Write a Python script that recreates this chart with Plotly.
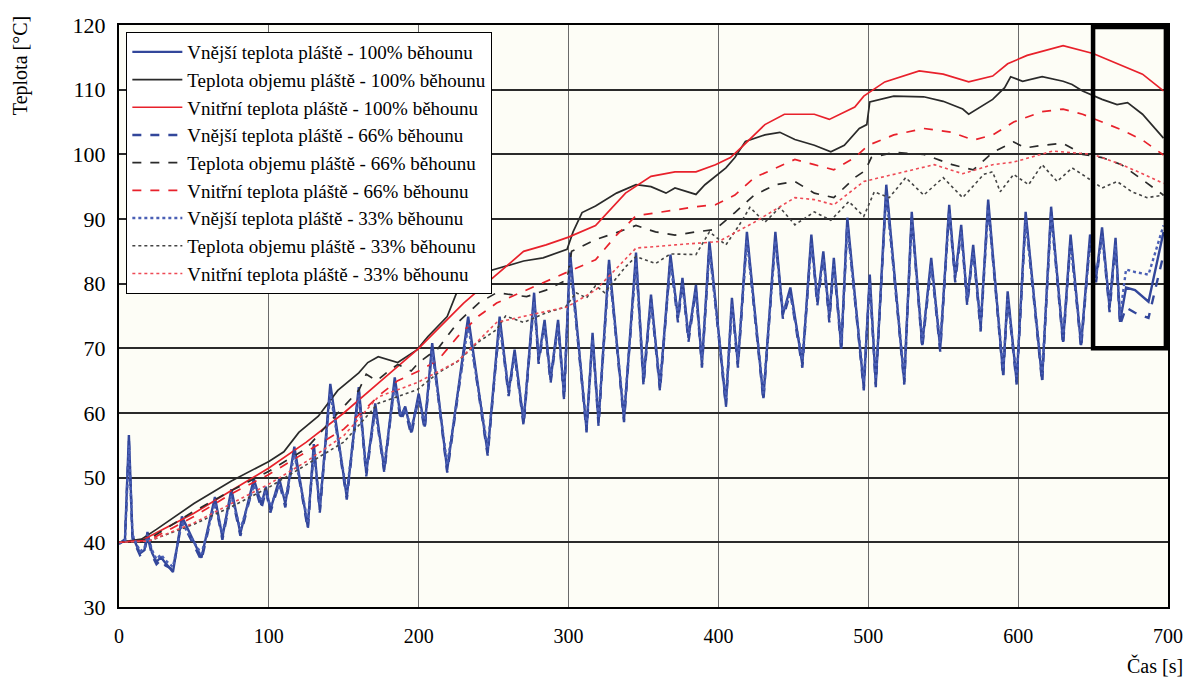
import plotly.graph_objects as go

# ---------------- data ----------------
t_blue = [0, 4, 6.6, 9, 14, 17, 19, 22, 25, 28,
          31, 36, 42, 55, 64, 69, 75, 81, 90, 95,
          98, 101, 107, 111, 117, 126, 130, 134, 141, 152,
          160, 165, 171, 177, 184, 188, 191, 195, 200, 204,
          209, 219, 233, 246, 254, 260, 264, 270, 277, 280,
          284, 288, 293, 297, 301, 312, 316, 320, 327, 337,
          345, 350, 355, 361, 368, 373, 376, 380, 385, 389,
          394, 405, 409, 413, 419, 430, 438, 443, 448, 456,
          462, 466, 470, 474, 477, 482, 486, 497, 501, 505,
          512, 524, 529, 536, 542, 548, 554, 558, 562, 566,
          570, 575, 580, 590, 593, 599, 605, 616, 622, 630,
          635, 642, 648, 652, 656, 661, 665, 668, 672, 678,
          687, 697]

outer_100 = [39.8, 40.5, 56.6, 41.0, 38.3, 38.8, 41.6, 38.4, 37.0, 37.7,
             36.8, 35.4, 44.0, 37.6, 47.0, 40.8, 48.2, 41.4, 49.8, 45.8,
             48.6, 45.0, 49.8, 46.0, 54.8, 42.4, 55.2, 45.0, 64.5, 47.0,
             64.0, 50.7, 61.5, 51.2, 65.5, 59.4, 61.0, 57.0, 63.0, 57.9,
             70.8, 51.2, 74.9, 53.8, 74.9, 63.1, 69.8, 58.5, 78.6, 68.2,
             74.4, 65.1, 74.4, 62.5, 84.8, 57.4, 72.4, 58.5, 83.7, 59.0,
             84.8, 64.8, 78.3, 63.9, 84.5, 74.7, 80.9, 71.6, 79.8, 67.5,
             86.5, 61.3, 77.8, 67.5, 88.0, 62.3, 88.0, 75.2, 79.4, 67.5,
             87.6, 77.2, 85.0, 74.7, 84.0, 70.0, 90.2, 63.9, 81.4, 64.4,
             95.3, 64.8, 91.1, 70.5, 84.0, 70.0, 92.2, 80.9, 89.1, 77.2,
             86.0, 73.2, 93.0, 65.9, 78.8, 64.8, 91.1, 65.1, 91.9, 71.0,
             87.6, 70.5, 87.6, 80.9, 88.7, 76.3, 87.1, 74.1, 79.4, 79.0,
             77.2, 88.0]

outer_66 = [39.8, 40.3, 55.8, 40.6, 38.0, 38.5, 41.0, 38.0, 36.6, 37.3,
            36.4, 35.8, 43.2, 37.2, 46.4, 40.4, 47.6, 41.0, 49.2, 45.2,
            48.0, 44.6, 49.2, 45.4, 54.2, 42.0, 54.6, 44.6, 63.8, 46.6,
            63.4, 50.2, 60.8, 50.8, 64.8, 58.8, 60.4, 56.6, 62.4, 57.4,
            70.2, 50.8, 74.2, 53.4, 74.2, 62.6, 69.2, 58.0, 77.8, 67.6,
            73.8, 64.6, 73.8, 62.0, 84.0, 57.0, 71.8, 58.0, 83.0, 58.6,
            84.0, 64.2, 77.6, 63.4, 83.8, 74.0, 80.2, 71.0, 79.0, 67.0,
            85.8, 60.9, 77.0, 67.0, 87.2, 61.9, 87.2, 74.6, 78.6, 67.0,
            86.8, 76.6, 84.2, 74.0, 83.2, 69.5, 89.4, 63.5, 80.6, 64.0,
            94.5, 64.4, 90.3, 70.0, 83.2, 69.5, 91.4, 80.2, 88.3, 76.6,
            85.2, 72.6, 92.2, 65.5, 78.0, 64.4, 90.3, 64.7, 91.1, 70.5,
            86.8, 70.0, 86.8, 80.2, 87.9, 75.6, 86.3, 73.6, 76.3, 75.5,
            74.7, 84.5]

outer_33 = [39.8, 40.2, 55.0, 41.2, 38.6, 39.1, 41.2, 38.8, 37.4, 38.1,
            37.2, 36.2, 43.0, 38.2, 46.0, 41.4, 47.2, 42.0, 48.8, 46.4,
            47.8, 45.6, 48.8, 46.6, 53.6, 43.2, 54.0, 45.8, 63.0, 47.8,
            62.8, 51.4, 60.2, 52.0, 64.2, 59.8, 60.6, 57.6, 62.2, 58.4,
            69.6, 52.0, 73.6, 54.6, 73.6, 63.6, 68.8, 59.2, 77.2, 68.8,
            73.4, 65.8, 73.4, 63.2, 83.2, 58.2, 71.4, 59.2, 82.4, 59.8,
            83.4, 65.6, 77.2, 64.6, 83.2, 75.2, 79.8, 72.2, 78.8, 68.2,
            85.2, 62.2, 76.8, 68.2, 86.8, 63.0, 86.6, 75.8, 78.4, 68.2,
            86.2, 77.8, 83.8, 75.4, 83.0, 70.8, 88.8, 64.8, 80.2, 65.2,
            93.8, 65.6, 89.8, 71.2, 82.8, 70.8, 91.0, 81.4, 88.0, 77.8,
            84.8, 74.0, 91.6, 66.8, 77.6, 65.6, 89.8, 66.0, 90.6, 71.8,
            86.2, 71.2, 86.2, 81.4, 87.4, 77.0, 86.0, 75.0, 82.2, 81.8,
            81.4, 89.0]

t_bulk_100 = [0, 15, 25, 50, 75, 100, 110, 120, 133, 146,
              160, 166, 173, 186, 199, 206, 219, 226, 240, 255,
              270, 283, 299, 303, 309, 318, 332, 345, 355, 365,
              371, 385, 391, 405, 411, 418, 431, 441, 451, 464,
              475, 484, 494, 499, 501, 517, 537, 550, 563, 567,
              583, 591, 595, 603, 616, 630, 636, 643, 656, 666,
              673, 683, 697]
bulk_100 = [40, 40.5, 42, 46, 49.5, 52.5, 54, 57, 59.5, 63.5,
            66.2, 67.8, 68.7, 67.8, 69.8, 71.8, 74.9, 79, 81.5, 82.5,
            83.5, 84, 85.3, 88, 91, 92, 94, 95.3, 95, 94,
            94.8, 93.8, 95.3, 97.9, 99.5, 102, 103, 103.4, 102.3, 101.4,
            100.4, 101.4, 104, 104.6, 108.1, 109, 108.9, 108.2, 107, 106.2,
            108.5, 110.3, 112, 111.3, 112, 111.3, 110.8, 109.8, 108.5, 107.7,
            108, 106.2, 102.5]

t_inner_100 = [0, 15, 25, 50, 75, 100, 125, 150, 175, 200,
               215, 230, 250, 270, 285, 300, 318, 338, 355, 371,
               385, 398, 408, 415, 431, 444, 464, 474, 491, 497,
               511, 534, 550, 567, 583, 593, 606, 630, 650, 666,
               683, 697]
inner_100 = [40, 40.3, 41.5, 44.5, 48, 51.5, 55.5, 60, 65, 70,
             73.5, 77, 81, 85, 86, 87.2, 89, 94, 96.6, 97.3,
             97.3, 98.4, 99.5, 101, 104.6, 106.2, 106.2, 105.4, 107.3, 109,
             111.2, 112.9, 112.4, 111.2, 112.1, 114, 115.3, 116.8, 115.6, 114,
             112.4, 109.8]

t_bulk_66 = [0, 20, 50, 75, 100, 125, 146, 160, 165, 172,
             180, 186, 195, 200, 213, 226, 240, 252, 265, 272,
             285, 299, 302, 318, 332, 345, 358, 371, 385, 398,
             411, 424, 438, 451, 464, 477, 491, 498, 502, 517,
             537, 556, 570, 583, 597, 605, 616, 630, 643, 656,
             669, 683, 697]
bulk_66 = [40, 40.5, 44.8, 48, 51, 54.5, 60, 63.5, 66, 65,
           66.5, 67.5, 66.5, 67.8, 70, 74, 77, 78.6, 78.2, 78,
           79, 80.6, 85, 86.8, 87.9, 89, 88, 87.5, 88, 88.4,
           91, 93.7, 95.3, 95.8, 94, 93.3, 96.4, 97.5, 99.5, 100.3,
           100, 98.4, 97.6, 100.3, 101.9, 101, 101.4, 101.7, 100, 99.5,
           98.4, 96, 93.7]

t_inner_66 = [0, 20, 50, 75, 100, 125, 150, 175, 186, 200,
              213, 226, 240, 252, 272, 285, 299, 318, 332, 345,
              371, 385, 398, 411, 424, 438, 451, 464, 477, 491,
              500, 517, 537, 556, 570, 583, 597, 616, 630, 643,
              656, 669, 683, 697]
inner_66 = [40, 40.3, 44, 47.5, 50.5, 54, 57.5, 63, 65, 66.5,
            68.2, 71.8, 75, 77, 79, 80.3, 81.7, 83.7, 87.5, 90.5,
            91.4, 91.9, 92.2, 93.7, 96.4, 97.9, 99.2, 98.4, 97.6, 99.5,
            101.4, 103, 104, 103.4, 102.2, 103, 105, 106.6, 107, 106.2,
            105, 103.8, 102.2, 99.9]

t_bulk_33 = [0, 20, 50, 75, 100, 125, 150, 173, 199, 213,
             226, 240, 252, 258, 270, 285, 298, 305, 312, 318,
             324, 338, 345, 358, 368, 385, 394, 405, 414, 421,
             431, 441, 451, 464, 475, 487, 497, 504, 514, 525,
             537, 550, 563, 577, 583, 588, 597, 607, 616, 626,
             636, 646, 656, 666, 676, 686, 697]
bulk_33 = [40, 40.2, 42.8, 45.5, 48.5, 52, 55.5, 61.5, 63.6, 66.2,
           68, 71, 72.9, 75, 74, 75.5, 76.4, 78.6, 77.8, 79.7,
           78.6, 82.6, 84.2, 83.1, 84.6, 84.5, 88, 86, 89.1, 91.8,
           89.5, 91.8, 89.1, 91.1, 89.8, 92.7, 90.4, 94.2, 93.3, 96.4,
           93.7, 96.4, 93.3, 96.9, 97.3, 94.2, 96.9, 95.3, 98.4, 95.8,
           97.9, 96.4, 94.8, 95.8, 94.2, 93.3, 93.7]

t_inner_33 = [0, 20, 50, 75, 100, 125, 150, 173, 199, 226,
              252, 275, 299, 318, 345, 371, 400, 424, 451, 464,
              477, 497, 517, 544, 563, 583, 597, 623, 650, 669,
              683, 697]
inner_33 = [40, 40.2, 43, 46, 49, 52.5, 56.5, 62.5, 64.7, 68,
            74, 75.2, 76.4, 79, 85.5, 86, 86.5, 89.5, 93.3, 93,
            92.2, 95.8, 96.9, 98.4, 97, 98.4, 98.8, 100.5, 100, 98.4,
            97, 95.5]

names = [
    "Vnější teplota pláště - 100% běhounu",
    "Teplota objemu pláště - 100% běhounu",
    "Vnitřní teplota pláště - 100% běhounu",
    "Vnější teplota pláště - 66% běhounu",
    "Teplota objemu pláště - 66% běhounu",
    "Vnitřní teplota pláště - 66% běhounu",
    "Vnější teplota pláště - 33% běhounu",
    "Teplota objemu pláště - 33% běhounu",
    "Vnitřní teplota pláště - 33% běhounu",
]

x_ticks = [0, 100, 200, 300, 400, 500, 600, 700]
y_ticks = [30, 40, 50, 60, 70, 80, 90, 100, 110, 120]

BLUE = "#33479b"
BLACK = "#2a2a2a"
RED = "#e8212b"

series = [
    (t_blue, outer_100, BLUE, "solid", 2.4),
    (t_bulk_100, bulk_100, BLACK, "solid", 1.7),
    (t_inner_100, inner_100, RED, "solid", 1.7),
    (t_blue, outer_66, BLUE, "dash", 2.4),
    (t_bulk_66, bulk_66, BLACK, "dash", 1.7),
    (t_inner_66, inner_66, RED, "dash", 1.7),
    (t_blue, outer_33, "#4a5fb5", "dot", 2.4),
    (t_bulk_33, bulk_33, "#444444", "dot", 1.6),
    (t_inner_33, inner_33, "#ee4a55", "dot", 1.6),
]

FONT = "Liberation Serif, Times New Roman, serif"

fig = go.Figure()
for (xs, ys, col, dash, w), nm in zip(series, names):
    fig.add_trace(go.Scatter(
        x=xs, y=ys, mode="lines", name=nm,
        line=dict(color=col, width=w, dash=dash),
    ))

fig.update_layout(
    width=1195, height=682,
    margin=dict(l=119, r=19, t=25, b=75),
    paper_bgcolor="white",
    plot_bgcolor="#fdfdf6",
    font=dict(family=FONT, color="black"),
    showlegend=True,
    legend=dict(
        x=0.007, y=0.988, xanchor="left", yanchor="top",
        bgcolor="white", bordercolor="black", borderwidth=1,
        font=dict(family=FONT, size=19, color="black"),
        itemwidth=50, tracegroupgap=0,
    ),
    xaxis=dict(
        range=[0, 700], tickvals=x_ticks, ticktext=[str(v) for v in x_ticks],
        showgrid=True, gridcolor="#6a6a6a", gridwidth=1.3,
        showline=True, linecolor="black", linewidth=2, mirror=True,
        zeroline=False, ticks="", ticklabelstandoff=10,
        tickfont=dict(family=FONT, size=20, color="black"),
    ),
    yaxis=dict(
        range=[30, 120], tickvals=y_ticks, ticktext=[str(v) for v in y_ticks],
        showgrid=True, gridcolor="#2a2a2a", gridwidth=1.6,
        showline=True, linecolor="black", linewidth=2, mirror=True,
        zeroline=False, ticks="", ticklabelstandoff=7,
        tickfont=dict(family=FONT, size=22, color="black"),
    ),
    annotations=[
        dict(text="Teplota [°C]", xref="paper", yref="paper",
             x=-0.094, y=0.93, xanchor="center", yanchor="middle",
             textangle=-90, showarrow=False,
             font=dict(family=FONT, size=20, color="black")),
        dict(text="Čas [s]", xref="paper", yref="paper",
             x=1.016, y=-0.1, xanchor="right", yanchor="middle",
             showarrow=False,
             font=dict(family=FONT, size=20, color="black")),
    ],
    shapes=[
        dict(type="rect", xref="x", yref="y", x0=650, x1=698.6, y0=70, y1=119.7,
             line=dict(color="black", width=4.5), fillcolor="rgba(0,0,0,0)"),
    ],
)

fig.write_html("out.html")
